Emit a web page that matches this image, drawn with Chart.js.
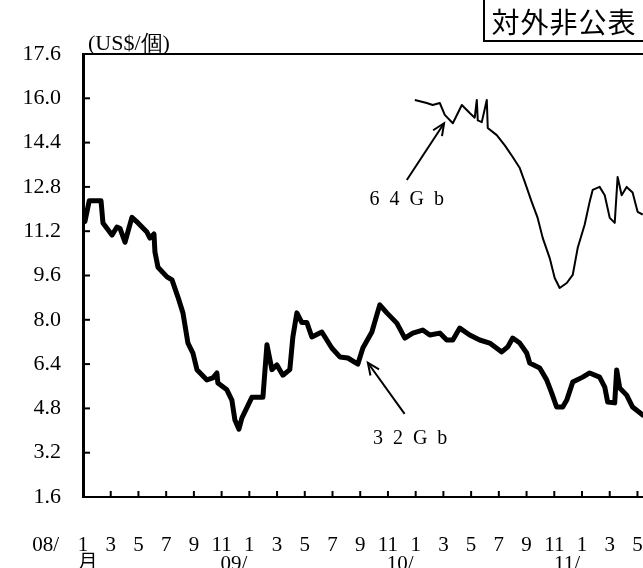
<!DOCTYPE html>
<html><head><meta charset="utf-8">
<script src="https://cdn.jsdelivr.net/npm/chart.js@4/dist/chart.umd.min.js"></script>
<style>
html,body{margin:0;padding:0;background:#fff;overflow:hidden}
#wrap{position:relative;width:643px;height:568px;background:#fff}
#stamp{position:absolute;left:483px;top:-4px;width:158px;height:42px;border:2px solid #000;border-right:none;
 font-family:"Noto Sans CJK JP","Noto Sans CJK SC",sans-serif;font-size:28px;line-height:46px;text-align:center;color:#000;letter-spacing:1px;white-space:nowrap}
canvas{position:absolute;left:0;top:0}
</style></head><body>
<div id="wrap">
<canvas id="c" width="643" height="568"></canvas>
<div id="stamp">対外非公表</div>
</div>
<script>
// ---- data (months counted from Jan 2008 = 0) ----
const months32 = [0,0.14,0.45,1.3,1.44,2.09,2.45,2.67,3.03,3.53,3.97,4.61,4.83,5.12,5.19,5.41,6.06,6.42,6.85,7.21,7.57,7.93,8.22,8.94,9.37,9.66,9.73,10.38,10.74,10.96,11.25,11.46,12.18,12.98,13.27,13.63,13.99,14.42,14.92,15.14,15.43,15.79,16.15,16.51,17.23,17.95,18.53,19.11,19.83,20.19,20.84,21.41,21.92,22.64,23.22,23.79,24.51,25.02,25.74,26.24,26.68,27.18,27.9,28.62,29.34,30.21,30.64,31.0,31.51,32.01,32.23,32.95,33.45,33.81,34.17,34.61,34.9,35.33,36.05,36.55,37.27,37.64,37.85,38.36,38.5,38.72,39.22,39.65,40.38];
const price32  = [11.85,11.55,12.3,12.3,11.5,11.06,11.35,11.3,10.8,11.7,11.5,11.17,10.95,11.1,10.45,9.9,9.55,9.44,8.82,8.25,7.16,6.8,6.2,5.83,5.9,6.08,5.72,5.47,5.1,4.38,4.05,4.45,5.2,5.2,7.1,6.2,6.37,6.0,6.2,7.38,8.25,7.9,7.9,7.38,7.56,6.98,6.66,6.62,6.4,6.98,7.56,8.54,8.25,7.88,7.34,7.52,7.63,7.45,7.52,7.27,7.27,7.7,7.45,7.27,7.16,6.84,7.02,7.34,7.16,6.8,6.44,6.26,5.83,5.36,4.85,4.85,5.1,5.75,5.93,6.08,5.93,5.57,5.03,5.0,6.19,5.54,5.28,4.85,4.56];
const months64 = [23.94,24.8,25.23,25.74,26.1,26.68,27.33,27.9,28.26,28.41,28.48,28.77,29.13,29.2,29.85,30.43,31.0,31.51,31.87,32.37,32.8,33.17,33.67,34.03,34.39,34.9,35.33,35.69,36.19,36.55,36.77,37.27,37.64,38.0,38.36,38.57,38.86,39.22,39.65,40.01,40.38];
const price64  = [15.94,15.83,15.76,15.83,15.4,15.1,15.76,15.47,15.3,15.94,15.2,15.14,15.94,14.93,14.67,14.3,13.88,13.48,12.98,12.26,11.68,10.95,10.23,9.51,9.15,9.33,9.62,10.6,11.43,12.26,12.69,12.8,12.5,11.68,11.5,13.16,12.5,12.8,12.6,11.9,11.8];
const yTickValues = [1.6,3.2,4.8,6.4,8.0,9.6,11.2,12.8,14.4,16.0,17.6];
const monthTickValues = [0,2,4,6,8,10,12,14,16,18,20,22,24,26,28,30,32,34,36,38,40];
const firstYearLabel = '08/';
const yearLabels = ['月','09/','10/','11/'];
const yearLabelMonths = [0,12,24,36];
const seriesNames = ['64Gb','32Gb'];
const unitLabel = '(US$/個)';

// ---- layout / style (not data) ----
const serif = '"Liberation Serif","DejaVu Serif",serif';
const annot = [
  {text: seriesNames[0], label:[23.36,12.35], tail:[23.36,13.05], tip:[26.05,15.1]},
  {text: seriesNames[1], label:[23.6,3.72], tail:[23.2,4.6], tip:[20.55,6.45]}
];

const extras = {
  id:'extras',
  afterDraw(chart){
    const {ctx, chartArea:a, scales:{x,y}} = chart;
    ctx.save();
    ctx.strokeStyle='#000'; ctx.fillStyle='#000'; ctx.lineWidth=2;
    // inward ticks
    y.ticks.forEach(t=>{
      if (t.value<=y.min+1e-6 || t.value>=y.max-1e-6) return;
      const py=y.getPixelForValue(t.value);
      ctx.beginPath(); ctx.moveTo(a.left,py); ctx.lineTo(a.left+7,py); ctx.stroke();
    });
    x.ticks.forEach(t=>{
      if (t.value<=0) return;
      const px=x.getPixelForValue(t.value);
      ctx.beginPath(); ctx.moveTo(px,a.bottom); ctx.lineTo(px,a.bottom-6); ctx.stroke();
    });
    // year row
    ctx.font = '21px '+serif;
    ctx.textBaseline='middle';
    ctx.textAlign='right';
    ctx.fillText(firstYearLabel, x.getPixelForValue(0)-24, 545);
    yearLabelMonths.forEach((m,i)=>{
      const px=x.getPixelForValue(m);
      if (i===0){ ctx.textAlign='center'; ctx.font='19px "Noto Sans CJK JP",sans-serif'; ctx.fillText(yearLabels[i], px+5, 561); }
      else { ctx.textAlign='right'; ctx.font='21px '+serif; ctx.fillText(yearLabels[i], px-2, 564); }
    });
    // unit label
    ctx.textAlign='left'; ctx.textBaseline='alphabetic';
    ctx.font='22px '+serif;
    ctx.fillText(unitLabel, a.left+5, a.top-4);
    // annotations
    annot.forEach(an=>{
      const lx=x.getPixelForValue(an.label[0]), ly=y.getPixelForValue(an.label[1]);
      ctx.font='20px '+serif;
      ctx.letterSpacing='10px';
      ctx.textAlign='center'; ctx.textBaseline='middle';
      ctx.fillText(an.text, lx+5, ly);
      ctx.letterSpacing='0px';
      const x0=x.getPixelForValue(an.tail[0]), y0=y.getPixelForValue(an.tail[1]);
      const x1=x.getPixelForValue(an.tip[0]), y1=y.getPixelForValue(an.tip[1]);
      ctx.lineWidth=2;
      ctx.beginPath(); ctx.moveTo(x0,y0); ctx.lineTo(x1,y1); ctx.stroke();
      const ang=Math.atan2(y1-y0,x1-x0), L=13, w=0.42;
      ctx.beginPath();
      ctx.moveTo(x1-L*Math.cos(ang-w), y1-L*Math.sin(ang-w));
      ctx.lineTo(x1,y1);
      ctx.lineTo(x1-L*Math.cos(ang+w), y1-L*Math.sin(ang+w));
      ctx.stroke();
    });
    ctx.restore();
  }
};

new Chart(document.getElementById('c'), {
  type:'line',
  data:{datasets:[
    {label:'32Gb', data: months32.map((m,i)=>({x:m,y:price32[i]})), borderColor:'#000', borderWidth:5, pointRadius:0, tension:0, borderJoinStyle:'round', borderCapStyle:'round', xAxisID:'x', yAxisID:'y'},
    {label:'64Gb', data: months64.map((m,i)=>({x:m,y:price64[i]})), borderColor:'#000', borderWidth:2, pointRadius:0, tension:0, borderJoinStyle:'round', xAxisID:'x', yAxisID:'y'}
  ]},
  options:{
    responsive:false, animation:false, devicePixelRatio:1,
    layout:{padding:{top:54,left:0,right:0,bottom:0}},
    plugins:{legend:{display:false}, tooltip:{enabled:false}},
    scales:{
      x:{type:'linear', position:'bottom', min:0, max:40.4,
        afterBuildTicks:s=>{s.ticks=monthTickValues.map(v=>({value:v}));},
        ticks:{callback:v=>String(v%12+1), color:'#000', font:{family:serif,size:21}, padding:36, maxRotation:0, autoSkip:false},
        grid:{display:false, drawTicks:false},
        border:{display:true, color:'#000', width:2},
        afterFit:s=>{s.height=71; s.paddingLeft=0; s.paddingRight=0;}
      },
      xTop:{type:'linear', position:'top', min:0, max:40.4,
        ticks:{display:false}, grid:{display:false, drawTicks:false},
        border:{display:true, color:'#000', width:2},
        afterFit:s=>{s.height=0; s.paddingLeft=0; s.paddingRight=0;}
      },
      y:{type:'linear', min:1.6, max:17.6,
        afterBuildTicks:s=>{s.ticks=yTickValues.map(v=>({value:v}));},
        ticks:{callback:v=>v.toFixed(1), color:'#000', font:{family:serif,size:22}, padding:22},
        grid:{display:false, drawTicks:false},
        border:{display:true, color:'#000', width:3},
        afterFit:s=>{s.width=83; s.paddingTop=0; s.paddingBottom=0;}
      }
    }
  },
  plugins:[extras]
});
</script>
</body></html>
